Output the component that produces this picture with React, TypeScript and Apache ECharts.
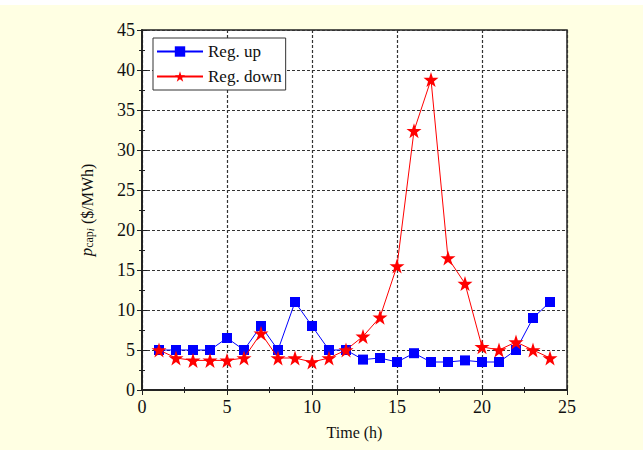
import React, { useEffect, useRef } from "react";
import * as echarts from "echarts";

const hours = [1, 2, 3, 4, 5, 6, 7, 8, 9, 10, 11, 12, 13, 14, 15, 16, 17, 18, 19, 20, 21, 22, 23, 24];
const regUp = [5, 5, 5, 5, 6.5, 5, 8, 5, 11, 8, 5, 5, 3.8, 4, 3.5, 4.6, 3.5, 3.5, 3.7, 3.5, 3.5, 5, 9, 11];
const regDown = [5, 4, 3.7, 3.7, 3.7, 4, 7.1, 4, 4, 3.5, 4, 5, 6.7, 9.1, 15.5, 32.4, 38.8, 16.5, 13.3, 5.4, 5, 6, 5, 4];
const seriesNames = ["Reg. up", "Reg. down"];

const FONT = "Liberation Serif";
const STAR = "path://M50,0 L61.8,35.2 L98.9,35.4 L69.1,57.6 L80.3,92.9 L50,71.4 L19.7,92.9 L30.9,57.6 L1.1,35.4 L38.2,35.2 Z";

export default function App() {
  const ref = useRef<HTMLDivElement>(null);
  useEffect(() => {
    document.body.style.margin = "0";
    const chart = echarts.init(ref.current!, null, { renderer: "svg" });
    const axisLine = { show: true, lineStyle: { color: "#222", width: 1.5 } };
    const tick = { show: true, inside: true, length: 5, lineStyle: { color: "#222", width: 1 } };
    const minor = { show: true, splitNumber: 2, length: 3, lineStyle: { color: "#222", width: 1 } };
    const split = { show: true, lineStyle: { color: "#333", width: 1.2, type: [3, 2] as any } };
    const labelStyle = { fontFamily: FONT, fontSize: 16, color: "#111" };
    const tickLabel = (margin: number) => ({
      fontFamily: FONT, fontSize: 18, color: "#111",
      margin,
    });
    const option: any = {
      animation: false,
      backgroundColor: "#ffffff",
      textStyle: { fontFamily: FONT },
      graphic: [
        { type: "rect", z: -10, shape: { x: 0, y: 5, width: 643, height: 445 }, style: { fill: "#FFFFE3" } },
      ],
      grid: {
        left: 142, right: 76, top: 30, bottom: 60,
        show: true, backgroundColor: "#ffffff", borderColor: "#222", borderWidth: 1.5,
      },
      legend: {
        data: seriesNames,
        orient: "vertical",
        left: 153, top: 38,
        backgroundColor: "#ffffff",
        borderColor: "#333", borderWidth: 1,
        padding: [5, 4, 5, 3],
        itemGap: 8,
        itemWidth: 46, itemHeight: 13,
        textStyle: { fontFamily: FONT, fontSize: 17, color: "#111" },
      },
      xAxis: [
        {
          type: "value", min: 0, max: 25, interval: 5, position: "bottom",
          name: "Time (h)", nameLocation: "middle", nameGap: 34,
          nameTextStyle: labelStyle,
          axisLine, axisTick: tick, minorTick: minor, splitLine: split,
          axisLabel: tickLabel(8),
        },
        {
          type: "value", min: 0, max: 25, interval: 5, position: "top",
          axisLine, axisTick: tick, minorTick: minor, splitLine: { show: false },
          axisLabel: { show: false },
        },
      ],
      yAxis: [
        {
          type: "value", min: 0, max: 45, interval: 5, position: "left",
          name: "{p|p}{sub|cap}{subi|i}{n| ($/MWh)}",
          nameLocation: "middle", nameGap: 47, nameRotate: 90,
          nameTextStyle: {
            ...labelStyle,
            rich: {
              p: { fontFamily: FONT, fontSize: 17, fontStyle: "italic", color: "#111", lineHeight: 22, verticalAlign: "bottom" },
              sub: { fontFamily: FONT, fontSize: 12, color: "#111", lineHeight: 10, verticalAlign: "bottom", padding: [6, 0, 0, 0] },
              subi: { fontFamily: FONT, fontSize: 11, fontStyle: "italic", color: "#111", lineHeight: 10, verticalAlign: "bottom", padding: [8, 0, 0, 0] },
              n: { fontFamily: FONT, fontSize: 16, color: "#111", lineHeight: 22, verticalAlign: "bottom" },
            },
          },
          axisLine, axisTick: tick, minorTick: minor, splitLine: split,
          axisLabel: tickLabel(7),
        },
        {
          type: "value", min: 0, max: 45, interval: 5, position: "right",
          axisLine, axisTick: tick, minorTick: minor, splitLine: { show: false },
          axisLabel: { show: false },
        },
      ],
      series: [
        {
          name: seriesNames[0], type: "line",
          data: hours.map((h, i) => [h, regUp[i]]),
          symbol: "rect", symbolSize: 10,
          itemStyle: { color: "#0000FF" },
          lineStyle: { color: "#0000FF", width: 1 },
          z: 3,
        },
        {
          name: seriesNames[1], type: "line",
          data: hours.map((h, i) => [h, regDown[i]]),
          symbol: STAR, symbolSize: 15,
          itemStyle: { color: "#FF0000" },
          lineStyle: { color: "#FF0000", width: 1 },
          z: 4,
        },
      ],
    };
    chart.setOption(option);
    return () => chart.dispose();
  }, []);
  return <div ref={ref} style={{ width: 643, height: 450 }} />;
}
